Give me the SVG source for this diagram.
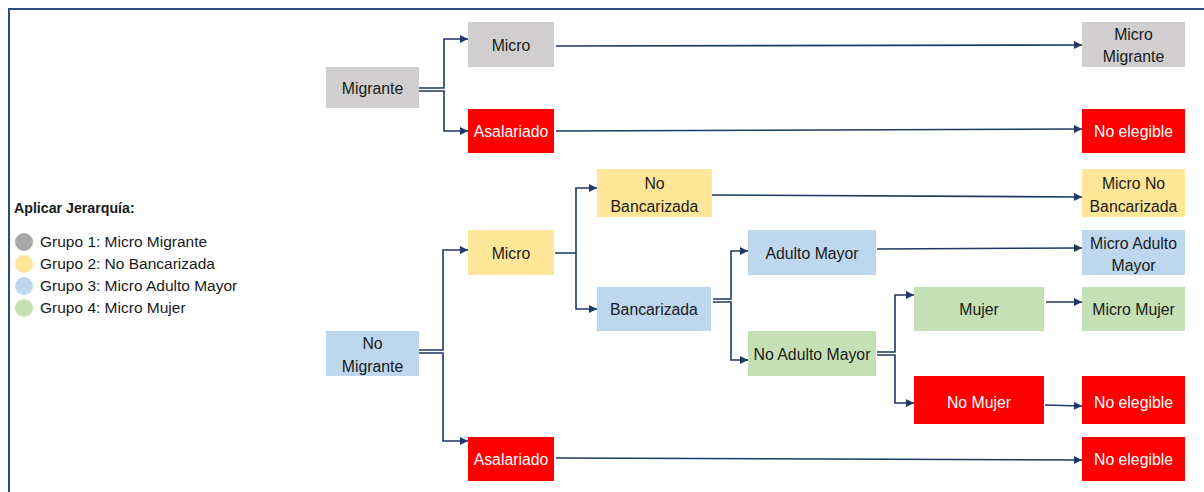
<svg xmlns="http://www.w3.org/2000/svg" width="1204" height="492" viewBox="0 0 1204 492">
<style>
text{font-family:"Liberation Sans",Arial,sans-serif;font-size:15.8px;text-anchor:middle;fill:#1a1a1a}
text.w{fill:#ffffff}
text.l{text-anchor:start;font-size:15.5px}
text.b{text-anchor:start;font-weight:bold;font-size:14.2px}
.gray{fill:#D0CECE}.red{fill:#FF0000}.yel{fill:#FFE699}.blue{fill:#BDD7EE}.grn{fill:#C5E0B4}
.c{fill:none;stroke:#1F3864;stroke-width:1.6}
</style>
<defs>
<marker id="ah" viewBox="0 0 10 10" refX="10" refY="5" markerWidth="9" markerHeight="8" markerUnits="userSpaceOnUse" orient="auto">
<path d="M0,0 L10,5 L0,10 z" fill="#1F3864"/>
</marker>
</defs>
<rect x="9" y="9" width="1210" height="500" fill="#ffffff" stroke="#2F4B7C" stroke-width="2"/>

<g id="legend">
<text class="b" x="14" y="213">Aplicar Jerarquía:</text>
<circle cx="24" cy="242" r="9" fill="#A6A6A6"/>
<text class="l" x="40" y="247">Grupo 1: Micro Migrante</text>
<circle cx="24" cy="264" r="9" fill="#FFE699"/>
<text class="l" x="40" y="269">Grupo 2: No Bancarizada</text>
<circle cx="24" cy="286" r="9" fill="#BDD7EE"/>
<text class="l" x="40" y="291">Grupo 3: Micro Adulto Mayor</text>
<circle cx="24" cy="308" r="9" fill="#C5E0B4"/>
<text class="l" x="40" y="313">Grupo 4: Micro Mujer</text>
</g>

<g id="connectors">
<path class="c" d="M419,88 H444 V39 H468" marker-end="url(#ah)"/>
<path class="c" d="M419,91 H444 V131 H468" marker-end="url(#ah)"/>
<path class="c" d="M556,46 L1082,45" marker-end="url(#ah)"/>
<path class="c" d="M556,131 L1082,129" marker-end="url(#ah)"/>
<path class="c" d="M419,350 H443 V250 H468" marker-end="url(#ah)"/>
<path class="c" d="M419,353 H443 V441 H468" marker-end="url(#ah)"/>
<path class="c" d="M555,253 H576 V188 H597" marker-end="url(#ah)"/>
<path class="c" d="M576,253 V309 H597" marker-end="url(#ah)"/>
<path class="c" d="M712,195 L1082,197" marker-end="url(#ah)"/>
<path class="c" d="M713,299 H731 V251 H748" marker-end="url(#ah)"/>
<path class="c" d="M713,302 H731 V360 H748" marker-end="url(#ah)"/>
<path class="c" d="M877,249 L1082,248" marker-end="url(#ah)"/>
<path class="c" d="M877,352 H895 V295 H914" marker-end="url(#ah)"/>
<path class="c" d="M877,355 H895 V403 H914" marker-end="url(#ah)"/>
<path class="c" d="M1046,302 H1082" marker-end="url(#ah)"/>
<path class="c" d="M1045,405 L1082,406" marker-end="url(#ah)"/>
<path class="c" d="M556,458 L1082,460" marker-end="url(#ah)"/>
</g>

<g id="n-migrante"><rect class="gray" x="326" y="67" width="93" height="41"/><text x="372.5" y="94">Migrante</text></g>
<g id="n-micro1"><rect class="gray" x="468" y="22" width="86" height="45"/><text x="511" y="51">Micro</text></g>
<g id="n-asal1"><rect class="red" x="468" y="109" width="86" height="44"/><text class="w" x="511" y="137">Asalariado</text></g>
<g id="n-micromig"><rect class="gray" x="1082" y="22" width="103" height="45"/><text x="1133.5" y="40">Micro</text><text x="1133.5" y="62">Migrante</text></g>
<g id="n-noeleg1"><rect class="red" x="1082" y="109" width="103" height="44"/><text class="w" x="1133.5" y="137">No elegible</text></g>

<g id="n-nomigrante"><rect class="blue" x="326" y="331" width="93" height="45"/><text x="372.5" y="349">No</text><text x="372.5" y="372">Migrante</text></g>
<g id="n-micro2"><rect class="yel" x="468" y="230" width="86" height="45"/><text x="511" y="259">Micro</text></g>
<g id="n-nobanc"><rect class="yel" x="597" y="169" width="115" height="48"/><text x="654.5" y="189">No</text><text x="654.5" y="212">Bancarizada</text></g>
<g id="n-banc"><rect class="blue" x="597" y="287" width="114" height="44"/><text x="654" y="315">Bancarizada</text></g>
<g id="n-adulto"><rect class="blue" x="748" y="230" width="128" height="45"/><text x="812" y="259">Adulto Mayor</text></g>
<g id="n-noadulto"><rect class="grn" x="748" y="331" width="128" height="45"/><text x="812" y="360">No Adulto Mayor</text></g>
<g id="n-mujer"><rect class="grn" x="914" y="287" width="130" height="44"/><text x="979" y="315">Mujer</text></g>
<g id="n-nomujer"><rect class="red" x="914" y="376" width="130" height="48"/><text class="w" x="979" y="408">No Mujer</text></g>
<g id="n-asal2"><rect class="red" x="468" y="437" width="86" height="44"/><text class="w" x="511" y="465">Asalariado</text></g>
<g id="n-micronobanc"><rect class="yel" x="1082" y="169" width="103" height="48"/><text x="1133.5" y="189">Micro No</text><text x="1133.5" y="212">Bancarizada</text></g>
<g id="n-microadulto"><rect class="blue" x="1082" y="230" width="103" height="45"/><text x="1133.5" y="249">Micro Adulto</text><text x="1133.5" y="271">Mayor</text></g>
<g id="n-micromujer"><rect class="grn" x="1082" y="287" width="103" height="44"/><text x="1133.5" y="315">Micro Mujer</text></g>
<g id="n-noeleg2"><rect class="red" x="1082" y="376" width="103" height="48"/><text class="w" x="1133.5" y="408">No elegible</text></g>
<g id="n-noeleg3"><rect class="red" x="1082" y="437" width="103" height="44"/><text class="w" x="1133.5" y="465">No elegible</text></g>
</svg>
